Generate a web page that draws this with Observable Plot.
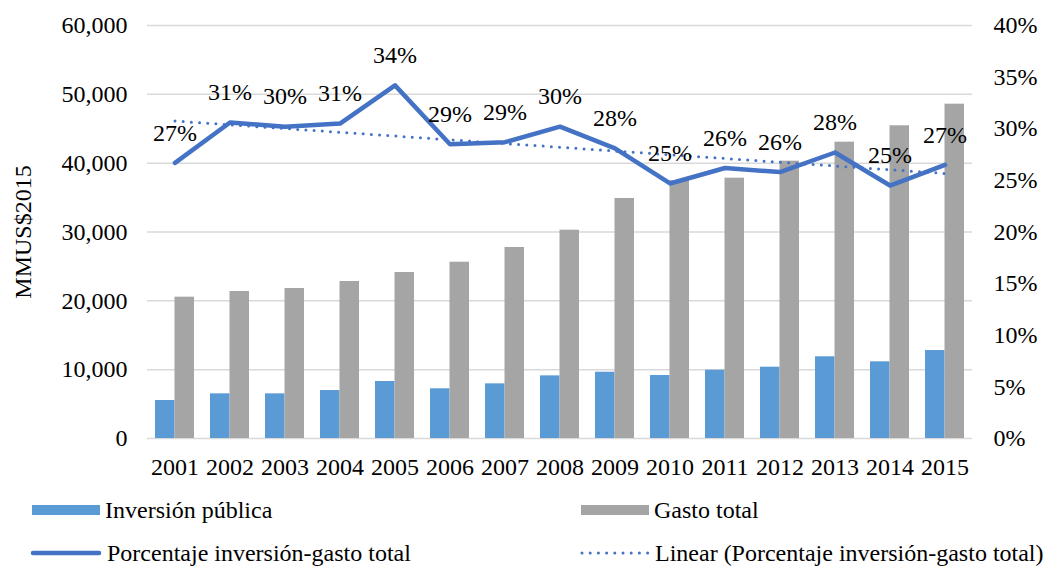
<!DOCTYPE html>
<html>
<head>
<meta charset="utf-8">
<script src="https://cdn.jsdelivr.net/npm/d3@7"></script>
<script src="https://cdn.jsdelivr.net/npm/@observablehq/plot@0.6"></script>
<style>
  html, body { margin: 0; padding: 0; background: #fff; }
  body { width: 1046px; height: 567px; position: relative; overflow: hidden; font-family: "Liberation Serif", "Times New Roman", serif; color: #000; }
  #chart { position: absolute; left: 0; top: 0; }
  .leg { position: absolute; display: flex; align-items: center; font-size: 24px; line-height: 1; white-space: nowrap; }
  .leg svg { display: block; margin-right: 5px; }
</style>
</head>
<body>
<div id="chart"></div>
<div class="leg" style="left:32px; top:498px;"><svg width="68" height="24"><rect x="0" y="7" width="68" height="10" fill="#5B9BD5"/></svg><span>Inversión pública</span></div>
<div class="leg" style="left:581px; top:498px;"><svg width="68" height="24"><rect x="0" y="7" width="68" height="10" fill="#A5A5A5"/></svg><span>Gasto total</span></div>
<div class="leg" style="left:30px; top:541px;"><svg width="72" height="24"><line x1="3" y1="12" x2="69" y2="12" stroke="#4472C4" stroke-width="4.5" stroke-linecap="round"/></svg><span>Porcentaje inversión-gasto total</span></div>
<div class="leg" style="left:580px; top:541px;"><svg width="70" height="24"><line x1="2" y1="12" x2="68" y2="12" stroke="#4472C4" stroke-width="3" stroke-linecap="round" stroke-dasharray="0,8.2"/></svg><span>Linear (Porcentaje inversión-gasto total)</span></div>
<script>
// ---- data ----
const years = ["2001","2002","2003","2004","2005","2006","2007","2008","2009","2010","2011","2012","2013","2014","2015"];
const inversionPublica = [5520, 6490, 6490, 6970, 8280, 7220, 7940, 9100, 9630, 9150, 9920, 10360, 11870, 11140, 12780];
const gastoTotal = [20530, 21360, 21790, 22810, 24120, 25610, 27750, 30260, 34870, 37450, 37820, 40290, 43050, 45430, 48570];
const porcentaje = [26.7, 30.6, 30.2, 30.5, 34.2, 28.5, 28.7, 30.2, 28.1, 24.7, 26.2, 25.8, 27.7, 24.5, 26.5];
const leftTicks = [0, 10000, 20000, 30000, 40000, 50000, 60000];
const rightTicks = [0, 5, 10, 15, 20, 25, 30, 35, 40];
const leftMax = 60000, rightMax = 40;

// map percent onto the left (primary) scale
const k = leftMax / rightMax;

// least-squares linear trend of the percentage series
const n = porcentaje.length;
const xs = d3.range(n);
const mx = d3.mean(xs), my = d3.mean(porcentaje);
const slope = d3.sum(xs, (x, i) => (x - mx) * (porcentaje[i] - my)) / d3.sum(xs, x => (x - mx) ** 2);
const intercept = my - slope * mx;

const rows = years.map((year, i) => ({
  year,
  inv: inversionPublica[i],
  gasto: gastoTotal[i],
  pct: porcentaje[i],
  trend: intercept + slope * i
}));

const half = 19.5;
const FS = 24;

const chart = Plot.plot({
  width: 1046,
  height: 485,
  marginLeft: 147,
  marginRight: 74,
  marginTop: 25,
  marginBottom: 47,
  style: { fontFamily: "Liberation Serif, Times New Roman, serif", fontSize: FS + "px", color: "#000", background: "#fff", overflow: "visible" },
  x: { type: "band", domain: years, paddingInner: 0.29, paddingOuter: 0.145, align: 0.5 },
  y: { domain: [0, leftMax] },
  marks: [
    Plot.gridY(leftTicks, { stroke: "#D9D9D9", strokeOpacity: 1, strokeWidth: 1.5 }),
    Plot.barY(rows, { x: "year", y: "inv", fill: "#5B9BD5", insetRight: half }),
    Plot.barY(rows, { x: "year", y: "gasto", fill: "#A5A5A5", insetLeft: half }),
    Plot.line(rows, { x: "year", y: d => d.pct * k, stroke: "#4472C4", strokeWidth: 4.5, strokeLinejoin: "round", strokeLinecap: "round" }),
    Plot.line(rows, { x: "year", y: d => d.trend * k, stroke: "#4472C4", strokeWidth: 3, strokeDasharray: "0,8.2", strokeLinecap: "round" }),
    Plot.text(rows, { x: "year", y: d => d.pct * k, text: d => Math.round(d.pct) + "%", dy: -30, fontSize: FS, fill: "#000" }),
    Plot.axisX({ tickSize: 0, tickPadding: 19, label: null, fontSize: FS }),
    Plot.axisY(leftTicks, { anchor: "left", tickSize: 0, tickPadding: 20, tickFormat: d3.format(","), label: null, fontSize: FS }),
    Plot.axisY(rightTicks.map(t => t * k), { anchor: "right", tickSize: 0, tickPadding: 21, tickFormat: d => Math.round(d / k) + "%", label: null, fontSize: FS }),
    Plot.text(["MMUS$2015"], { frameAnchor: "left", textAnchor: "middle", dx: -124, rotate: -90, fontSize: FS, fill: "#000" })
  ]
});
document.getElementById("chart").appendChild(chart);
</script>
</body>
</html>
